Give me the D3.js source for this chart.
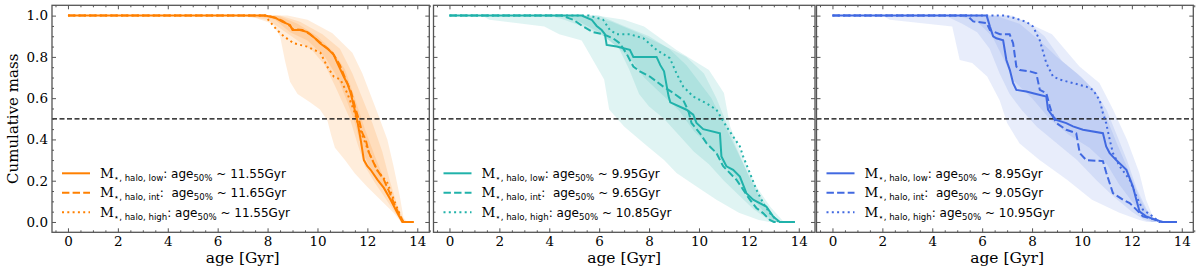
<!DOCTYPE html>
<html>
<head>
<meta charset="utf-8">
<script src="https://cdn.jsdelivr.net/npm/d3@7"></script>
<style>
    body { margin: 0; background: #fff; }
    .legend-text { white-space: pre; }
    .serif { font-family: 'DejaVu Serif', serif; }
</style>
</head>
<body>
<div class="chart"></div>
<script>
// Data: cumulative mass fraction vs age [Gyr]
const xTicks = [0, 2, 4, 6, 8, 10, 12, 14]
const yTicks = [0.0, 0.2, 0.4, 0.6, 0.8, 1.0]
const seriesNames = ['low', 'int', 'high']
const age50Labels = [
    ['11.55', '11.65', '11.55'],
    ['9.95', '9.65', '10.85'],
    ['8.95', '9.05', '10.95']
]

// panel 1 (orange)
const p1Low = [[0,1],[7.9,1],[8.3,0.99],[8.6,0.97],[8.9,0.955],[9.0,0.93],[9.3,0.93],[9.6,0.92],[9.9,0.89],[10.1,0.866],[10.4,0.84],[10.65,0.81],[10.8,0.77],[11.05,0.705],[11.2,0.67],[11.33,0.625],[11.46,0.56],[11.59,0.495],[11.73,0.40],[11.86,0.30],[12.0,0.27],[12.13,0.253],[12.4,0.205],[12.66,0.165],[12.93,0.108],[13.2,0.045],[13.4,0],[13.85,0]]
const p1Int = [[0,1],[8.0,1],[8.3,0.99],[8.6,0.975],[8.9,0.95],[9.0,0.935],[9.4,0.93],[9.7,0.91],[10.0,0.88],[10.3,0.85],[10.6,0.82],[10.9,0.76],[11.1,0.7],[11.35,0.63],[11.5,0.56],[11.65,0.5],[11.8,0.43],[11.93,0.40],[12.05,0.34],[12.2,0.30],[12.4,0.25],[12.66,0.205],[12.9,0.14],[13.1,0.08],[13.3,0.03],[13.45,0],[13.85,0]]
const p1High = [[0,1],[7.9,1],[7.98,0.987],[8.38,0.93],[8.65,0.90],[9.05,0.866],[9.58,0.85],[10.12,0.82],[10.39,0.753],[10.65,0.705],[10.92,0.69],[11.19,0.625],[11.46,0.54],[11.66,0.463],[11.86,0.40],[12.13,0.318],[12.4,0.25],[12.8,0.19],[13.06,0.108],[13.33,0.027],[13.45,0],[13.85,0]]
const p1BandAUpper = [[6.5,1],[8.8,1],[9.6,0.98],[10.6,0.915],[11.4,0.82],[11.8,0.72],[12.0,0.656],[12.4,0.53],[12.8,0.4],[13.05,0.27],[13.3,0.125],[13.45,0.02],[13.6,0]]
const p1BandALower = [[6.5,1],[7.5,0.99],[8.2,0.96],[8.5,0.9],[8.7,0.78],[8.9,0.68],[9.2,0.62],[9.7,0.58],[10.1,0.545],[10.4,0.49],[10.55,0.42],[10.7,0.36],[11.1,0.3],[11.5,0.235],[12.0,0.17],[12.5,0.11],[13.05,0.045],[13.35,0],[13.6,0]]
const p1BandBUpper = [[7,1],[8.5,1],[9.3,0.97],[10.2,0.91],[10.9,0.84],[11.4,0.72],[11.8,0.6],[12.2,0.48],[12.6,0.34],[12.9,0.2],[13.2,0.08],[13.5,0]]
const p1BandBLower = [[7,1],[8,0.98],[8.6,0.93],[9.2,0.88],[9.8,0.83],[10.3,0.76],[10.7,0.66],[11.0,0.58],[11.3,0.5],[11.6,0.38],[11.9,0.27],[12.3,0.19],[12.8,0.1],[13.2,0.03],[13.4,0],[13.5,0]]
const p1BandCUpper = [[7.5,1],[8.4,1],[9.2,0.96],[10,0.9],[10.6,0.83],[11.1,0.74],[11.5,0.6],[11.9,0.45],[12.3,0.32],[12.7,0.2],[13.0,0.12],[13.3,0.04],[13.5,0]]
const p1BandCLower = [[7.5,1],[8.3,0.98],[8.9,0.92],[9.6,0.88],[10.3,0.8],[10.8,0.7],[11.2,0.58],[11.5,0.48],[11.8,0.34],[12.2,0.24],[12.7,0.15],[13.1,0.06],[13.4,0],[13.5,0]]

// panel 2 (teal)
const p2Low = [[0,1],[5.3,1],[5.7,0.98],[5.9,0.95],[6.1,0.93],[6.23,0.91],[6.3,0.858],[6.7,0.85],[7.23,0.834],[7.37,0.80],[8.3,0.80],[8.45,0.76],[8.6,0.73],[8.78,0.61],[8.85,0.58],[9.5,0.544],[9.77,0.52],[9.9,0.48],[10.17,0.45],[10.84,0.43],[10.9,0.318],[11.1,0.27],[11.37,0.253],[11.64,0.22],[11.9,0.14],[12.17,0.108],[12.7,0.075],[12.97,0.027],[13.24,0],[13.84,0]]
const p2Int = [[0,1],[4.5,1],[4.96,0.98],[5.36,0.947],[5.76,0.92],[6.16,0.91],[6.56,0.89],[6.83,0.866],[7.1,0.815],[7.37,0.753],[7.63,0.73],[8.03,0.705],[8.57,0.656],[8.97,0.625],[9.37,0.59],[9.57,0.54],[9.7,0.48],[10.04,0.43],[10.3,0.382],[10.7,0.334],[10.97,0.27],[11.5,0.205],[11.77,0.157],[12.04,0.108],[12.3,0.068],[12.57,0.043],[12.84,0.01],[13.0,0],[13.84,0]]
const p2High = [[0,1],[5.6,1],[6.16,0.98],[6.43,0.93],[6.7,0.91],[7.23,0.91],[7.77,0.89],[8.3,0.834],[8.83,0.794],[9.1,0.72],[9.37,0.656],[9.77,0.608],[10.3,0.575],[10.7,0.544],[11.1,0.463],[11.37,0.414],[11.64,0.366],[11.77,0.318],[12.04,0.237],[12.3,0.157],[12.57,0.092],[12.84,0.043],[13.1,0.01],[13.2,0],[13.84,0]]
const p2BandAUpper = [[1.3,1],[5.9,1],[7.0,0.98],[7.8,0.947],[9.1,0.834],[10.4,0.736],[11.0,0.625],[11.25,0.463],[11.8,0.3],[12.3,0.172],[12.85,0.075],[13.4,0]]
const p2BandALower = [[1.3,1],[1.6,0.98],[3.8,0.947],[4.4,0.91],[5.3,0.88],[5.9,0.753],[6.2,0.69],[6.4,0.545],[7.0,0.463],[7.8,0.38],[8.6,0.3],[9.1,0.237],[9.9,0.172],[10.7,0.108],[11.6,0.045],[12.4,0.01],[12.8,0],[13.4,0]]
const p2BandBUpper = [[4,1],[5.5,1],[6.5,0.97],[7.5,0.92],[8.5,0.86],[9.5,0.8],[10.2,0.72],[10.7,0.6],[11.1,0.48],[11.5,0.36],[12,0.22],[12.5,0.1],[13,0.02],[13.2,0]]
const p2BandBLower = [[4,1],[4.6,0.98],[5.5,0.94],[6.2,0.9],[6.8,0.84],[7.2,0.74],[7.6,0.62],[8.0,0.56],[8.6,0.5],[9.2,0.42],[9.8,0.34],[10.4,0.28],[11,0.2],[11.6,0.13],[12.2,0.06],[12.8,0.01],[13,0],[13.2,0]]
const p2BandCUpper = [[4.5,1],[6,1],[7,0.95],[8,0.9],[8.8,0.84],[9.5,0.76],[10,0.68],[10.5,0.6],[10.9,0.5],[11.3,0.4],[11.7,0.3],[12.2,0.18],[12.7,0.08],[13.1,0.01],[13.3,0]]
const p2BandCLower = [[4.5,1],[5.2,0.97],[6,0.92],[6.6,0.86],[7.2,0.8],[7.8,0.7],[8.5,0.62],[9.2,0.54],[9.8,0.44],[10.5,0.36],[11,0.28],[11.6,0.2],[12.1,0.12],[12.6,0.05],[13,0],[13.3,0]]

// panel 3 (blue)
const p3Low = [[0,1],[6.18,1],[6.31,0.947],[6.44,0.90],[6.57,0.89],[6.84,0.88],[6.97,0.785],[7.11,0.736],[7.24,0.673],[7.37,0.64],[7.77,0.632],[8.04,0.624],[8.57,0.608],[8.64,0.544],[8.84,0.511],[8.97,0.495],[9.37,0.479],[9.64,0.463],[10.04,0.447],[10.84,0.43],[10.97,0.366],[11.11,0.334],[11.37,0.30],[11.78,0.253],[12.04,0.172],[12.18,0.108],[12.31,0.05],[12.57,0.027],[12.97,0.01],[13.24,0],[13.8,0]]
const p3Int = [[0,1],[5.4,1],[5.64,0.972],[6.18,0.964],[6.31,0.93],[6.71,0.91],[7.1,0.91],[7.24,0.866],[7.37,0.753],[7.51,0.736],[7.91,0.73],[8.17,0.72],[8.31,0.64],[8.57,0.625],[8.71,0.56],[8.84,0.511],[8.97,0.48],[9.37,0.447],[9.77,0.43],[9.91,0.334],[10.17,0.30],[10.84,0.295],[10.97,0.24],[11.24,0.14],[11.64,0.108],[11.91,0.092],[12.18,0.06],[12.44,0.027],[12.97,0.01],[13.2,0],[13.8,0]]
const p3High = [[0,1],[6.9,1],[7.24,0.99],[7.77,0.97],[8.04,0.947],[8.31,0.88],[8.57,0.77],[8.84,0.705],[9.11,0.69],[9.64,0.673],[10.17,0.656],[10.44,0.64],[10.71,0.59],[10.84,0.527],[10.97,0.479],[11.11,0.40],[11.24,0.334],[11.51,0.27],[11.91,0.205],[12.18,0.124],[12.44,0.06],[12.84,0.027],[13.1,0],[13.8,0]]
const p3BandAUpper = [[2,1],[7.2,1],[8.8,0.91],[9.9,0.753],[10.7,0.673],[11.25,0.544],[11.8,0.4],[12.3,0.237],[12.57,0.108],[12.84,0.027],[13.0,0]]
const p3BandALower = [[2,1],[2.3,0.98],[4.8,0.947],[5.1,0.785],[5.6,0.77],[6.2,0.705],[6.7,0.59],[7.0,0.48],[7.5,0.38],[8.3,0.3],[9.4,0.205],[10.4,0.108],[11.5,0.045],[12.3,0.01],[12.6,0],[13.0,0]]
const p3BandBUpper = [[4.5,1],[6.5,1],[7.5,0.96],[8.3,0.88],[9,0.8],[9.8,0.72],[10.5,0.64],[11,0.54],[11.4,0.42],[11.8,0.3],[12.2,0.16],[12.6,0.06],[13,0]]
const p3BandBLower = [[4.5,1],[5.2,0.96],[5.8,0.92],[6.3,0.84],[6.7,0.72],[7.1,0.62],[7.6,0.54],[8.2,0.46],[9,0.38],[9.8,0.3],[10.6,0.2],[11.3,0.12],[12,0.05],[12.5,0.01],[12.8,0],[13,0]]
const p3BandCUpper = [[5,1],[7,1],[7.8,0.97],[8.5,0.9],[9.2,0.78],[10,0.7],[10.6,0.62],[11,0.5],[11.4,0.38],[11.9,0.24],[12.3,0.12],[12.7,0.03],[13.1,0]]
const p3BandCLower = [[5,1],[5.8,0.97],[6.4,0.9],[6.9,0.78],[7.3,0.68],[8,0.6],[8.7,0.5],[9.5,0.42],[10.3,0.36],[11,0.28],[11.5,0.18],[12,0.1],[12.4,0.04],[12.8,0],[13.1,0]]

const panels = [
    { lines: [p1Low, p1Int, p1High], bands: [[p1BandAUpper, p1BandALower], [p1BandBUpper, p1BandBLower], [p1BandCUpper, p1BandCLower]] },
    { lines: [p2Low, p2Int, p2High], bands: [[p2BandAUpper, p2BandALower], [p2BandBUpper, p2BandBLower], [p2BandCUpper, p2BandCLower]] },
    { lines: [p3Low, p3Int, p3High], bands: [[p3BandAUpper, p3BandALower], [p3BandBUpper, p3BandBLower], [p3BandCUpper, p3BandCLower]] }
]

const colors = ['#ff8000', '#20b2aa', '#4169e1']
const dashes = [null, '7.4,3.2', '2,3.3']

function draw() {
    // Dimensions
    let dimensions = {
        width: 1200,
        height: 276,
        top: 5.3,
        bottom: 232.3,
        scaleWidth: 377,
        lefts: [52, 433.5, 816.5],
        rights: [429.3, 815, 1193.3]
    }

    const svg = d3.select('.chart')
        .append('svg')
        .attr('width', dimensions.width)
        .attr('height', dimensions.height)

    const yScale = d3.scaleLinear()
        .domain([-0.05, 1.05])
        .range([dimensions.bottom, dimensions.top])

    const frameColor = '#555'
    const serif = "'DejaVu Serif', serif"
    const sans = "'DejaVu Sans', sans-serif"

    // y label only on the first panel
    svg.append('text')
        .attr('transform', `translate(18, ${(dimensions.top + dimensions.bottom) / 2}) rotate(-90)`)
        .attr('text-anchor', 'middle')
        .style('font-family', serif)
        .style('font-size', '15px')
        .text('Cumulative mass')

    panels.forEach((panel, i) => {
        const left = dimensions.lefts[i]
        const right = dimensions.rights[i]
        const color = colors[i]

        const xScale = d3.scaleLinear()
            .domain([-0.64, 14.47])
            .range([left, left + dimensions.scaleWidth])

        const ctr = svg.append('g')

        const clipId = `clip-${i}`
        ctr.append('clipPath').attr('id', clipId)
            .append('rect')
            .attr('x', left).attr('y', dimensions.top)
            .attr('width', right - left)
            .attr('height', dimensions.bottom - dimensions.top)

        const plot = ctr.append('g').attr('clip-path', `url(#${clipId})`)

        const lineGen = d3.line()
            .x(d => xScale(d[0]))
            .y(d => yScale(d[1]))

        // shaded ranges: upper boundary, then lower boundary walked back
        panel.bands.forEach(([upper, lower]) => {
            plot.append('path')
                .attr('d', lineGen(upper.concat(lower.slice().reverse())) + 'Z')
                .attr('fill', color)
                .attr('fill-opacity', i === 2 ? 0.12 : 0.14)
                .attr('stroke', 'none')
        })

        // 50% line
        plot.append('line')
            .attr('x1', left).attr('x2', right)
            .attr('y1', yScale(0.5)).attr('y2', yScale(0.5))
            .attr('stroke', '#000')
            .attr('stroke-width', 1.2)
            .attr('stroke-dasharray', '5,2.5')

        // curves
        panel.lines.forEach((series, j) => {
            plot.append('path')
                .attr('d', lineGen(series))
                .attr('fill', 'none')
                .attr('stroke', color)
                .attr('stroke-width', 2)
                .attr('stroke-dasharray', dashes[j])
        })

        // axes, ticks pointing inward
        const minorX = d3.range(-0.5, 14.51, 0.5).filter(v => Math.abs(v % 2) > 1e-6)
        const minorY = d3.range(0, 1.001, 0.05).filter(v => Math.abs(Math.round(v * 5) - v * 5) > 1e-6)

        const addAxis = (axis, transform, labelled) => {
            const g = ctr.append('g').attr('transform', transform).call(axis)
            g.select('.domain').remove()
            g.selectAll('line').attr('stroke', frameColor).attr('stroke-width', 1)
            g.selectAll('text')
                .attr('fill', '#000')
                .style('font-family', serif)
                .style('font-size', '13.5px')
            if (!labelled) g.selectAll('text').remove()
            return g
        }

        addAxis(d3.axisBottom(xScale).tickValues(xTicks).tickSize(-4).tickPadding(4.5).tickFormat(d3.format('d')),
            `translate(0, ${dimensions.bottom})`, true)
        addAxis(d3.axisBottom(xScale).tickValues(minorX).tickSize(-2), `translate(0, ${dimensions.bottom})`, false)
        addAxis(d3.axisTop(xScale).tickValues(xTicks).tickSize(-4), `translate(0, ${dimensions.top})`, false)
        addAxis(d3.axisTop(xScale).tickValues(minorX).tickSize(-2), `translate(0, ${dimensions.top})`, false)

        addAxis(d3.axisLeft(yScale).tickValues(yTicks).tickSize(-4).tickPadding(4).tickFormat(d3.format('.1f')),
            `translate(${left}, 0)`, i === 0)
        addAxis(d3.axisLeft(yScale).tickValues(minorY).tickSize(-2), `translate(${left}, 0)`, false)
        addAxis(d3.axisRight(yScale).tickValues(yTicks).tickSize(-4), `translate(${right}, 0)`, false)
        addAxis(d3.axisRight(yScale).tickValues(minorY).tickSize(-2), `translate(${right}, 0)`, false)

        // frame
        ctr.append('rect')
            .attr('x', left).attr('y', dimensions.top)
            .attr('width', right - left)
            .attr('height', dimensions.bottom - dimensions.top)
            .attr('fill', 'none')
            .attr('stroke', frameColor)
            .attr('stroke-width', 1.3)

        // x label
        ctr.append('text')
            .attr('x', xScale(7))
            .attr('y', 263)
            .attr('text-anchor', 'middle')
            .style('font-family', serif)
            .style('font-size', '15.5px')
            .text('age [Gyr]')

        // legend
        const legend = ctr.append('g')
        const rowY = [173.3, 192.8, 212.3]
        seriesNames.forEach((name, j) => {
            legend.append('line')
                .attr('x1', left + 10).attr('x2', left + 38)
                .attr('y1', rowY[j]).attr('y2', rowY[j])
                .attr('stroke', color)
                .attr('stroke-width', 2)
                .attr('stroke-dasharray', dashes[j])

            const t = legend.append('text')
                .classed('legend-text', true)
                .attr('x', left + 48)
                .attr('y', rowY[j] + 4.5)
                .style('font-family', sans)
                .style('font-size', '12px')
            t.append('tspan').style('font-family', serif).style('font-size', '13.5px').text('M')
            t.append('tspan').style('font-size', '8.6px').attr('dy', 3).text(`\u22c6, halo, ${name}`)
            t.append('tspan').attr('dy', -3).text(name === 'int' ? ':  age' : ': age')
            t.append('tspan').style('font-size', '8.6px').attr('dy', 3).text('50%')
            t.append('tspan').attr('dy', -3).text(` ~ ${age50Labels[i][j]}Gyr`)
        })
    })
}

draw()
</script>
</body>
</html>
